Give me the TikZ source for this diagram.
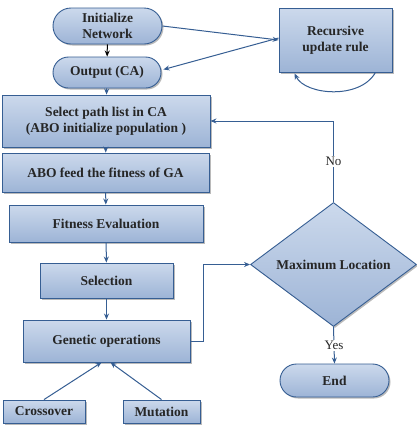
\documentclass[tikz,border=0pt]{standalone}
\usepackage{fontspec}
\setmainfont{Liberation Serif}
\usetikzlibrary{shapes.misc,shapes.geometric,shadows,arrows.meta,calc}
\definecolor{boxtop}{HTML}{CCD9EC}
\definecolor{boxbot}{HTML}{9DB4D6}
\definecolor{edge}{HTML}{365E93}
\definecolor{txt}{HTML}{262626}
\begin{document}
\begin{tikzpicture}[x=1pt,y=-1pt,
  base/.style={draw=edge, line width=0.9pt, top color=boxtop, bottom color=boxbot,
    text=txt, font=\fontsize{13.5}{16.5}\selectfont\bfseries, align=center, inner sep=1pt,
    drop shadow={shadow xshift=1.5pt, shadow yshift=-1.5pt, fill=black!45, opacity=0.6}},
  pbox/.style={base, rectangle},
  term/.style={base, rounded rectangle},
  dec/.style={base, diamond, inner sep=0pt},
  arr/.style={draw=edge, line width=1pt, -{Stealth[length=6pt,width=5pt]}},
  lab/.style={fill=white, text=txt, font=\fontsize{13}{15}\selectfont, inner sep=1pt}
]
\useasboundingbox[fill=white] (0,0) rectangle (417,429);

\node[term, minimum width=111pt, minimum height=36pt] (init) at (107.5,26) {Initialize\\Network};
\node[term, minimum width=110pt, minimum height=31pt] (out) at (107,72.5) {Output (CA)};
\node[pbox, minimum width=208pt, minimum height=52pt] (sel) at (106,121) {Select path list in CA\\(ABO initialize population )};
\node[pbox, minimum width=207pt, minimum height=39pt] (abo) at (105.5,172.5) {ABO feed the fitness of GA};
\node[pbox, minimum width=194pt, minimum height=37pt] (fit) at (106,223.5) {Fitness Evaluation};
\node[pbox, minimum width=133pt, minimum height=35pt] (sec) at (106.5,280.5) {Selection};
\node[pbox, minimum width=167pt, minimum height=42pt] (gen) at (106.5,341) {Genetic operations};
\node[pbox, minimum width=82pt, minimum height=23pt] (cro) at (44,411.5) {Crossover};
\node[pbox, minimum width=77pt, minimum height=23pt] (mut) at (161.5,411.5) {Mutation};
\node[pbox, minimum width=113pt, minimum height=64pt] (rec) at (335.5,40) {Recursive\\update rule};
\node[dec, minimum width=166pt, minimum height=75pt] (max) at (333.5,264.5) {Maximum Location};
\node[term, minimum width=111pt, minimum height=33pt] (end) at (334.5,380.5) {End};

\draw[arr, draw=black] (init) -- (out);
\draw[arr] (init.east) -- (rec.west);
\draw[arr] ([yshift=2pt]rec.west) -- ([xshift=2pt,yshift=3pt]out.east);
\draw[arr] ($(rec.south east)+(-17,0)$) .. controls (360,100) and (305,95) .. ($(rec.south west)+(16,1)$);
\draw[arr] (out) -- (sel);
\draw[arr] (sel) -- (abo);
\draw[arr] (abo) -- (fit);
\draw[arr] (fit) -- (sec);
\draw[arr] (sec) -- (gen);
\draw[arr] (cro.north) -- ([xshift=-5pt]gen.south);
\draw[arr] (mut.north) -- ([xshift=4pt]gen.south);
\draw[arr] (gen.east) -- ++(13,0) |- (max.west);
\draw[arr] (max.north) -- node[lab] {No} (max.north |- sel.east) -- (sel.east);
\draw[arr] (max.south) -- node[lab] {Yes} (end.north);
\end{tikzpicture}
\end{document}
